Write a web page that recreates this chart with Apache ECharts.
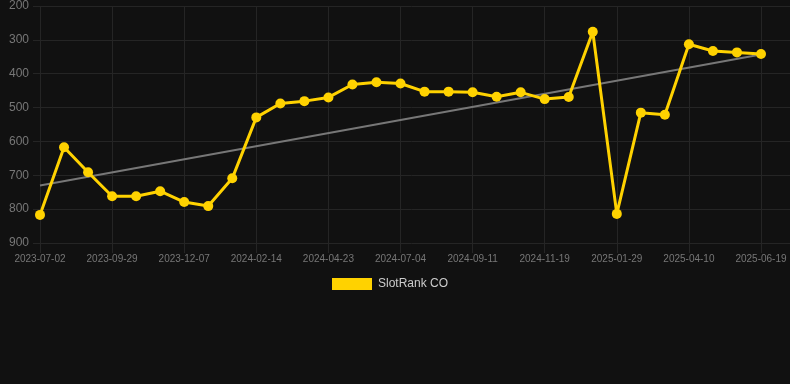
<!DOCTYPE html>
<html>
<head>
<meta charset="utf-8">
<script src="https://cdn.jsdelivr.net/npm/echarts@6/dist/echarts.min.js"></script>
<style>
html,body{margin:0;padding:0;background:#111111;}
#chart{width:790px;height:384px;}
</style>
</head>
<body>
<div id="chart"></div>
<script>
const categories = [
  '2023-07-02','2023-08-01','2023-08-31','2023-09-29','2023-10-22','2023-11-14',
  '2023-12-07','2023-12-30','2024-01-22','2024-02-14','2024-03-08','2024-03-31',
  '2024-04-23','2024-05-17','2024-06-10','2024-07-04','2024-07-27','2024-08-19',
  '2024-09-11','2024-10-04','2024-10-27','2024-11-19','2024-12-13','2025-01-05',
  '2025-01-29','2025-02-21','2025-03-17','2025-04-10','2025-05-03','2025-05-26',
  '2025-06-19'
];
const rankValues = [
  817, 617, 691, 762, 762, 747, 779, 791, 709, 529,
  488, 481, 470, 432, 425, 429, 453, 453, 455, 468,
  455, 475, 469, 276, 814, 515, 521, 313, 333, 337,
  342
];
const trendStart = 730;
const trendEnd = 343;
const yTicks = [200, 300, 400, 500, 600, 700, 800, 900];

const chart = echarts.init(document.getElementById('chart'), null, {renderer:'canvas'});
const gridColor = '#252525';
const labelColor = '#777777';
chart.setOption({
  backgroundColor: '#111111',
  animation: false,
  legend: {
    show: true,
    top: 278,
    left: 332,
    padding: 0,
    itemWidth: 40,
    itemHeight: 12,
    itemGap: 10,
    icon: 'rect',
    textStyle: {color: '#cccccc', fontSize: 12, padding: [0, 0, 0, 1], fontFamily: 'Liberation Sans, Arial, sans-serif'},
    data: [{name: 'SlotRank CO', itemStyle: {color: '#FFD200'}}]
  },
  grid: [
    {left: 40, right: 29, top: 6, height: 237, containLabel: false},
    {left: 33, right: 0, top: 6, height: 237, containLabel: false}
  ],
  xAxis: [
    {
      type: 'category',
      gridIndex: 0,
      data: categories,
      boundaryGap: false,
      axisLine: {show: false},
      axisTick: {show: true, interval: 2, length: 10, lineStyle: {color: gridColor}},
      axisLabel: {interval: 2, color: labelColor, fontSize: 10, margin: 11,
                  fontFamily: 'Liberation Sans, Arial, sans-serif'},
      splitLine: {show: true, interval: 2, lineStyle: {color: gridColor, width: 1}}
    },
    {
      type: 'value',
      gridIndex: 1,
      show: false,
      min: 0, max: 1
    }
  ],
  yAxis: [
    {
      type: 'value',
      gridIndex: 0,
      inverse: true,
      min: yTicks[0],
      max: yTicks[yTicks.length - 1],
      interval: 100,
      axisLine: {show: false},
      axisTick: {show: false},
      axisLabel: {show: false},
      splitLine: {show: false}
    },
    {
      type: 'value',
      gridIndex: 1,
      inverse: true,
      min: yTicks[0],
      max: yTicks[yTicks.length - 1],
      interval: 100,
      axisLine: {show: false},
      axisTick: {show: false},
      axisLabel: {show: true, color: labelColor, fontSize: 12, margin: 4,
                  fontFamily: 'Liberation Sans, Arial, sans-serif'},
      splitLine: {show: true, lineStyle: {color: gridColor, width: 1}}
    }
  ],
  series: [
    {
      name: 'SlotRank CO',
      type: 'line',
      xAxisIndex: 0,
      yAxisIndex: 0,
      data: rankValues,
      z: 5,
      symbol: 'circle',
      symbolSize: 10,
      lineStyle: {color: '#FFD200', width: 3},
      itemStyle: {color: '#FFD200'},
      markLine: {
        silent: true,
        symbol: ['none', 'none'],
        label: {show: false},
        lineStyle: {color: '#777777', width: 2, type: 'solid'},
        z: 3,
        data: [[
          {coord: [categories[0], trendStart]},
          {coord: [categories[categories.length - 1], trendEnd]}
        ]]
      }
    }
  ]
});
</script>
</body>
</html>
